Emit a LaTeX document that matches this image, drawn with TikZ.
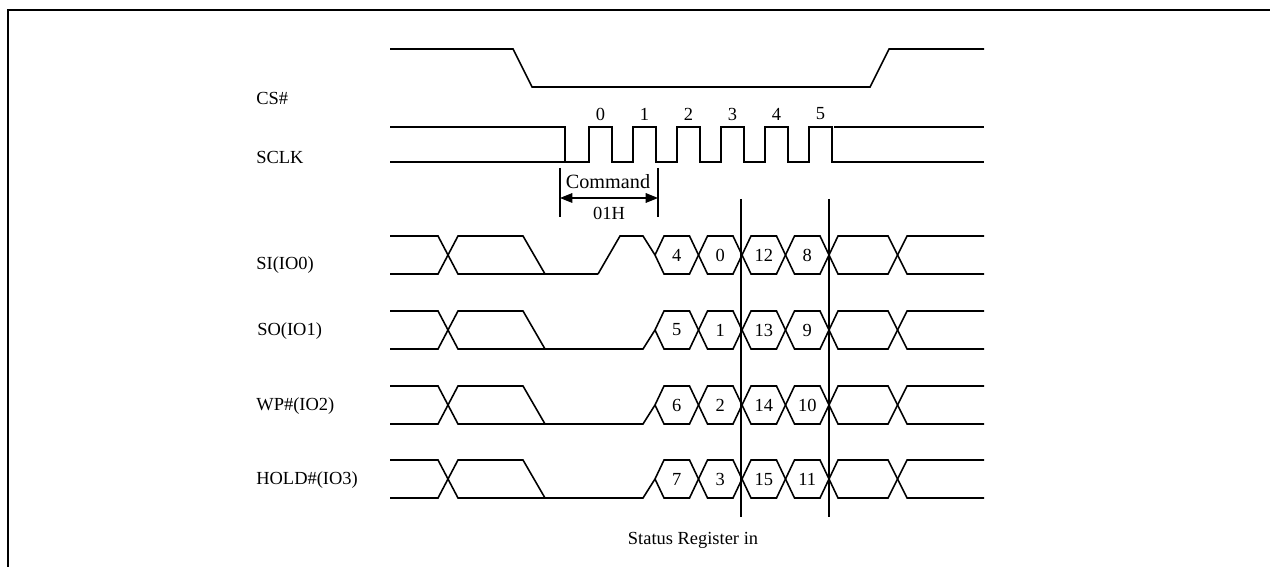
\documentclass[tikz,border=0pt]{standalone}
\usepackage{fontspec}
\setmainfont{Liberation Serif}
\usetikzlibrary{arrows.meta}

\begin{document}
\begin{tikzpicture}[x=0.02cm, y=-0.02cm,
        sig/.style={line width=0.9pt, line join=miter},
        lbl/.style={font=\fontsize{10.5}{12}\selectfont, anchor=west, inner sep=0pt},
        num/.style={font=\fontsize{10.5}{12}\selectfont, inner sep=0pt},
        dimarrow/.style={{Triangle[length=7pt,width=5.5pt]}-{Triangle[length=7pt,width=5.5pt]}, line width=0.6pt}
      ]
        \useasboundingbox (0,0) rectangle (1270,567);
        \clip (0,0) rectangle (1270,567);
        \draw[line width=1pt] (8,620) -- (8,10) -- (1320,10);

        % signal names
        \node[lbl] (cs)   at (256,98)  {CS\#};
        \node[lbl] (sclk) at (256,157) {SCLK};
        \node[lbl] (si)   at (256,265) {SI(IO0)};
        \node[lbl] (so)   at (257,331) {SO(IO1)};
        \node[lbl] (wp)   at (256,406) {WP\#(IO2)};
        \node[lbl] (hold) at (256,480) {HOLD\#(IO3)};

        % CS#
        \draw[sig] (390,49) -- (513,49) -- (532,87) -- (870,87) -- (889,49) -- (984,49);

        % SCLK
        \draw[sig] (390,127) -- (565,127) -- (565,162);
        \draw[sig] (390,162) \foreach \k in {0,...,5} {
            -- ({589+44*\k},162) -- ({589+44*\k},127) -- ({612+44*\k},127) -- ({612+44*\k},162)}
            -- (984,162);
        \draw[sig] (834,127) -- (984,127);
        \foreach \k in {0,...,5}
          \node[num] (clk\k) at ({600.5+44*\k},114) {\k};

        % command window
        \coordinate (cmdl) at (560,198);
        \coordinate (cmdr) at (658,198);
        \draw[line width=0.6pt] (560,168) -- (560,217);
        \draw[line width=0.6pt] (658,168) -- (658,217);
        \draw[dimarrow] (cmdl) -- (cmdr);
        \node[num, font=\fontsize{11.5}{13}\selectfont] (cmd) at (608,182) {Command};
        \node[num] (cmdh) at (609,213) {01H};

        % IO0..IO3
        \foreach \t/\na/\nb/\nc/\nd/\rid in {236/4/0/12/8/si, 311/5/1/13/9/so,
                                            386/6/2/14/10/wp, 460/7/3/15/11/hold} {
          \pgfmathsetmacro{\yb}{\t+38}
          \pgfmathsetmacro{\ym}{\t+19}
          \draw[sig] (390,\t) -- (438,\t) -- (458,\yb) -- (598,\yb);
          \draw[sig] (390,\yb) -- (438,\yb) -- (458,\t) -- (523,\t) -- (545,\yb);
          \foreach \c/\d in {655/698.5, 698.5/742, 742/785.5, 785.5/829} {
            \draw[sig] (\c,\ym) -- (\c+9,\t) -- (\d-9,\t) -- (\d,\ym);
            \draw[sig] (\c,\ym) -- (\c+9,\yb) -- (\d-9,\yb) -- (\d,\ym);
          }
          \draw[sig] (829,\ym) -- (838,\t) -- (888,\t) -- (907,\yb) -- (984,\yb);
          \draw[sig] (829,\ym) -- (838,\yb) -- (888,\yb) -- (907,\t) -- (984,\t);
          \node[num] (\rid-a) at (676.75,\ym) {\na};
          \node[num] (\rid-b) at (720.25,\ym) {\nb};
          \node[num] (\rid-c) at (763.75,\ym) {\nc};
          \node[num] (\rid-d) at (807.25,\ym) {\nd};
        }
        \draw[sig] (598,274) -- (620,236) -- (643,236) -- (655,255);
        \foreach \t in {311,386,460}
          \draw[sig] (598,\t+38) -- (643,\t+38) -- (655,\t+19);

        % status register window
        \draw[sig] (741,199) -- (741,517);
        \draw[sig] (829,199) -- (829,517);
        \node[num] (sreg) at (693,540) {Status Register in};
      \end{tikzpicture}
\end{document}
